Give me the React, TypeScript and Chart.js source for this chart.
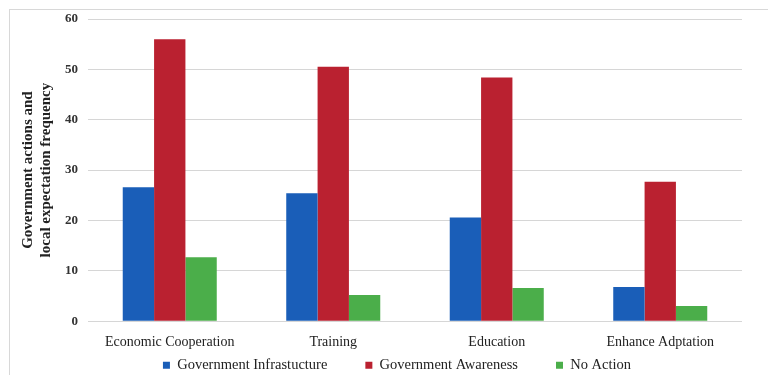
import React, { useEffect, useRef } from "react";
import { Chart, registerables } from "chart.js";

Chart.register(...registerables);

const categories = ["Economic Cooperation", "Training", "Education", "Enhance Adptation"];
const infrastructure = [26.6, 25.4, 20.6, 6.8];
const awareness = [56.0, 50.5, 48.4, 27.7];
const noAction = [12.7, 5.2, 6.6, 3.0];
const seriesNames = ["Government Infrastucture", "Government Awareness", "No Action"];
const yTitle = ["Government actions and", "local expectation frequency"];

const FONT = "'Liberation Serif', 'Times New Roman', serif";

const legendShift = {
  id: "legendShift",
  afterLayout(chart: any) {
    const lg = chart.legend;
    if (lg) {
      lg.top -= 36;
      lg.bottom -= 36;
      lg.left += 26;
      lg.right += 26;
    }
  },
};

export default function App() {
  const ref = useRef<HTMLCanvasElement>(null);
  useEffect(() => {
    document.body.style.margin = "0";
    const chart = new Chart(ref.current!, {
      type: "bar",
      data: {
        labels: categories,
        datasets: [
          { label: seriesNames[0], data: infrastructure, backgroundColor: "#1a5eb8" },
          { label: seriesNames[1], data: awareness, backgroundColor: "#ba2130" },
          { label: seriesNames[2], data: noAction, backgroundColor: "#4bae4a" },
        ],
      },
      plugins: [legendShift],
      options: {
        responsive: false,
        animation: false,
        layout: { padding: { top: 19, right: 26, left: 0, bottom: -43.5 } },
        datasets: {
          bar: { categoryPercentage: 0.575, barPercentage: 1.0 },
        },
        plugins: {
          legend: {
            position: "bottom",
            labels: {
              boxWidth: 7,
              boxHeight: 7,
              padding: 38,
              color: "#222",
              font: { family: FONT, size: 14.5 },
            },
          },
          tooltip: { enabled: false },
        },
        scales: {
          x: {
            grid: { display: false },
            border: { display: false },
            ticks: { color: "#222", font: { family: FONT, size: 14 }, padding: 5, autoSkip: false, maxRotation: 0 },
          },
          y: {
            min: 0,
            max: 60,
            ticks: { stepSize: 10, color: "#333", font: { family: FONT, size: 13, weight: "bold" }, padding: 10 },
            grid: { color: "#d6d6d6", drawTicks: false },
            border: { display: false },
            title: {
              display: true,
              text: yTitle,
              color: "#222",
              font: { family: FONT, size: 15, weight: "bold" },
              padding: { top: 19, bottom: 4 },
            },
            afterFit: (scale: any) => {
              scale.width = 88;
            },
          },
        },
      },
    });
    return () => chart.destroy();
  }, []);
  return (
    <div style={{ position: "relative", width: 768, height: 375, background: "#fff", overflow: "hidden" }}>
      <div
        style={{
          position: "absolute",
          left: 9,
          top: 9,
          width: 800,
          height: 400,
          border: "1px solid #d8d8d8",
          boxSizing: "border-box",
        }}
      />
      <canvas ref={ref} width={768} height={375} style={{ position: "absolute", left: 0, top: 0 }} />
    </div>
  );
}
